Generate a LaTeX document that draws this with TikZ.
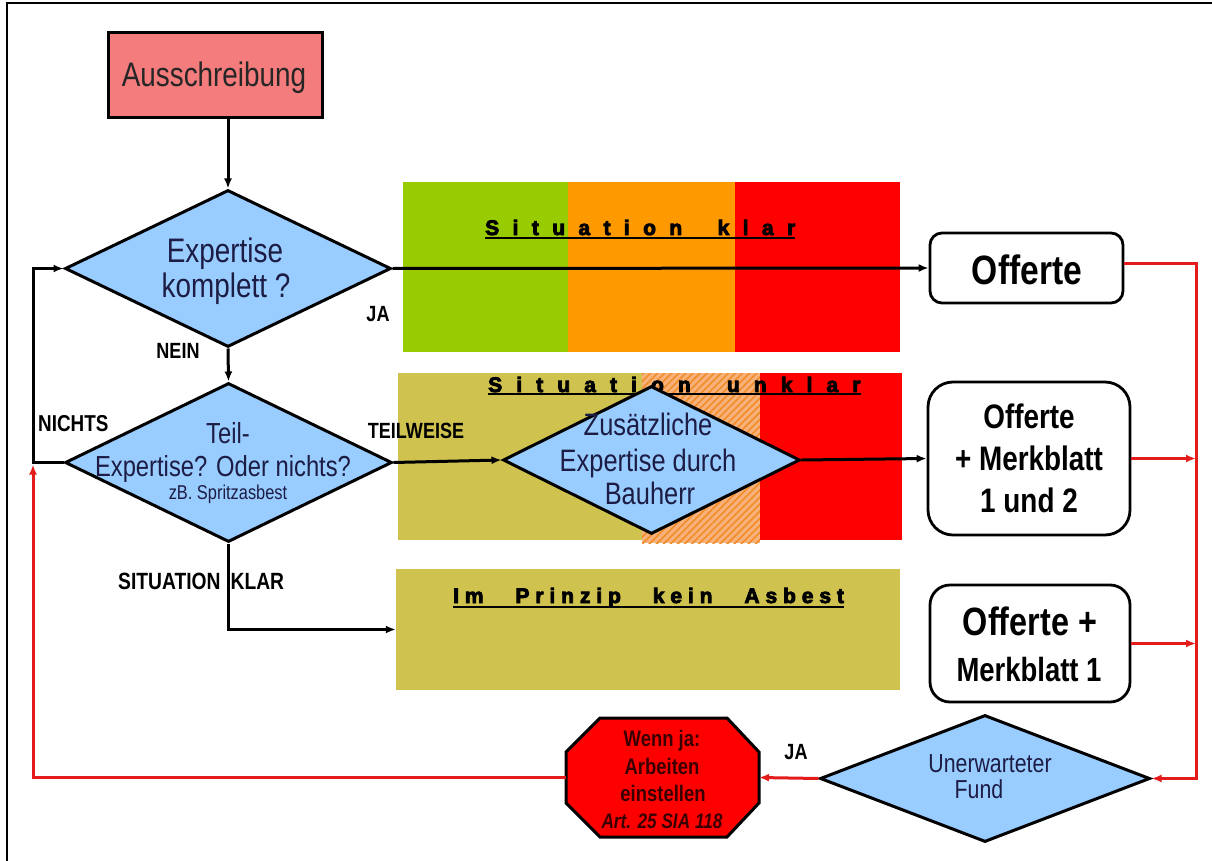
\documentclass[tikz,border=0pt]{standalone}
\usepackage{fontspec}
\setmainfont{Liberation Sans}[FakeStretch=0.82]
\newfontfamily\heavyfont{Liberation Sans}[FakeBold=4]
\usetikzlibrary{shapes.geometric,arrows.meta,patterns.meta}
\definecolor{salmon}{HTML}{F47C7C}
\definecolor{diablue}{HTML}{99CCFF}
\definecolor{cgreen}{HTML}{99CC00}
\definecolor{corange}{HTML}{FF9900}
\definecolor{cred}{HTML}{FF0000}
\definecolor{olive}{HTML}{CFC24F}
\definecolor{hatchbg}{HTML}{F6B27A}
\definecolor{hatchfg}{HTML}{F28C28}
\definecolor{redline}{HTML}{E31B1B}
\definecolor{navy}{HTML}{1C1C44}
\definecolor{octtext}{HTML}{3A0000}
\newdimen\trkamt \newdimen\trkgap
\def\trk#1{\trkloop#1\relax}
\def\trkloop#1{\ifx\relax#1\else\ifx|#1\hskip\trkgap\relax\else#1\hskip\trkamt\relax\fi\expandafter\trkloop\fi}
\newcommand\fs[2]{\fontsize{#1}{#2}\selectfont}
\begin{document}
\begin{tikzpicture}[x=1pt,y=-1pt,
  arr/.style={line width=3pt,-{Latex[length=10pt,width=8pt]}},
  redarr/.style={draw=redline,line width=3pt,-{Latex[length=10pt,width=8pt]}},
  dia/.style={diamond,draw=black,line width=3pt,fill=diablue,inner sep=0pt},
  obox/.style={draw=black,line width=2.8pt,fill=white,inner sep=0pt},
  txt/.style={inner sep=0pt,anchor=base},
  dtxt/.style={txt,text=navy},
  otxt/.style={txt,font=\bfseries\fs{34}{40}},
  lbl/.style={txt,font=\bfseries\fs{22}{26}},
  octt/.style={txt,text=octtext,font=\bfseries\fs{22.5}{26}},
  title/.style={inner sep=0pt,anchor=base west,font=\heavyfont\bfseries\fs{21}{24}},
  uline/.style={line width=1.6pt}]
\useasboundingbox (0,0) rectangle (1212,861);
\fill[white] (0,0) rectangle (1212,861);
\draw[line width=2pt] (7,861) -- (7,3) -- (1212,3);

% colour bands
\fill[cgreen] (403,182) rectangle (568,352);
\fill[corange] (568,182) rectangle (735,352);
\fill[cred] (735,182) rectangle (900,352);
\fill[olive] (398,373) rectangle (642,540);
\fill[hatchbg] (642,373) rectangle (760,543);
\fill[pattern={Lines[angle=45,distance=5pt,line width=1.6pt]},pattern color=hatchfg] (642,373) rectangle (760,543);
\fill[cred] (760,373) rectangle (902,540);
\node[fill=olive,minimum width=504pt,minimum height=121pt,inner sep=0pt] (b3) at (648,629.5) {};

% band titles
\node[title] (t1) at (485,235) {\trkamt=13.4pt\relax\trkgap=22pt\relax\trk{Situation|klar}};
\draw[uline] ([yshift=-3pt]t1.base west) -- ([yshift=-3pt]t1.base east);
\node[title] (t2) at (488,392) {\trkamt=14.1pt\relax\trkgap=22pt\relax\trk{Situation|unklar}};
\draw[uline] ([yshift=-2pt]t2.base west) -- ([yshift=-2pt]t2.base east);
\node[title] (t3) at (453,603) {\trkamt=5.9pt\relax\trkgap=26pt\relax\trk{Im|Prinzip|kein|Asbest}};
\draw[uline] ([yshift=-4pt]t3.base west) -- ([yshift=-4pt]t3.base east);

% bus helpers
\coordinate (lbus) at (33,0);
\coordinate (rbus) at (1196,0);

% nodes
\node[draw=black,line width=3pt,fill=salmon,minimum width=214pt,minimum height=85pt,inner sep=0pt] (aus) at (215,75.5) {};
\node[txt,text=black!85,font=\fs{34}{40}] (taus) at (214,87) {Ausschreibung};

\node[dia,minimum width=326pt,minimum height=157pt] (d1) at (228,268.5) {};
\node[dtxt,font=\fs{34}{40}] (d1a) at (225,262) {Expertise};
\node[dtxt,font=\fs{34}{40}] (d1b) at (226,297) {komplett ?};

\node[dia,minimum width=327pt,minimum height=159pt] (d2) at (228.5,462.5) {};
\node[dtxt,font=\fs{29}{33}] (d2a) at (228,443) {Teil-};
\node[dtxt,font=\fs{29}{33}] (d2b) at (223,476) {Expertise? Oder nichts?};
\node[dtxt,font=\fs{20}{23}] (d2c) at (228,499) {zB. Spritzasbest};

\node[dia,minimum width=297pt,minimum height=148pt] (d3) at (651.5,460) {};
\node[dtxt,font=\fs{31}{36}] (d3a) at (648,435) {Zusätzliche};
\node[dtxt,font=\fs{31}{36}] (d3b) at (648,471) {Expertise durch};
\node[dtxt,font=\fs{31}{36}] (d3c) at (650,504) {Bauherr};

\node[dia,minimum width=330pt,minimum height=127pt] (d4) at (985,778.5) {};
\node[dtxt,font=\fs{26}{30}] (d4a) at (990,772) {Unerwarteter};
\node[dtxt,font=\fs{26}{30}] (d4b) at (979,798) {Fund};

\node[obox,rounded corners=12pt,minimum width=193pt,minimum height=70pt] (off1) at (1026.5,268) {};
\node[txt,font=\bfseries\fs{41}{46}] (o1a) at (1027,284) {Offerte};

\node[obox,rounded corners=25pt,minimum width=202pt,minimum height=153pt] (off2) at (1029,458.5) {};
\node[otxt] (o2a) at (1029,428) {Offerte};
\node[otxt] (o2b) at (1029,470) {+ Merkblatt};
\node[otxt] (o2c) at (1029,512) {1 und 2};

\node[obox,rounded corners=20pt,minimum width=200pt,minimum height=117pt] (off3) at (1030,643.5) {};
\node[txt,font=\bfseries\fs{39.5}{44}] (o3a) at (1030,635) {Offerte +};
\node[txt,font=\bfseries\fs{33.5}{38}] (o3b) at (1029,681) {Merkblatt 1};

% octagon
\node[minimum width=193pt,minimum height=119pt,inner sep=0pt,outer sep=0pt] (oct) at (662.5,777.5) {};
\draw[line width=3pt,fill=cred,line join=miter] (600,718) -- (727,718) -- (759,752) -- (759,803) -- (727,837) -- (600,837) -- (566,803) -- (566,752) -- cycle;
\node[octt] (oa) at (662,746) {Wenn ja:};
\node[octt] (ob) at (662,774) {Arbeiten};
\node[octt] (oc) at (663,801) {einstellen};
\node[txt,text=octtext,font=\bfseries\itshape\fs{21}{24}] (od) at (662,828) {Art. 25 SIA 118};

% labels
\node[lbl] (lja1) at (378,321) {JA};
\node[lbl] (lnein) at (178,358) {NEIN};
\node[txt,anchor=base west,font=\bfseries\fs{23}{26}] (lnichts) at (38,431) {NICHTS};
\node[lbl] (lteil) at (416,438) {TEILWEISE};
\node[txt,anchor=base west,font=\bfseries\fs{23.5}{26}] (lsk) at (118,589) {SITUATION\hspace{10pt}KLAR};
\node[lbl] (lja2) at (796,759) {JA};

% red connectors
\draw[redarr] ([yshift=5pt]off1.east) -| (rbus |- d4.east) -- (d4.east);
\draw[redarr] (off2.east) -- (off2.east -| rbus);
\draw[redarr] (off3.east) -- (off3.east -| rbus);
\draw[redarr] (d4.west) -- (oct.east);
\draw[redarr] (oct.west) -- (oct.west -| lbus) -- ([yshift=-2pt]lbus |- d2.west);

% black connectors
\draw[arr] (d1.north |- aus.south) -- (d1.north);
\draw[arr] (d1.east) -- (off1.west);
\draw[arr] (d1.south) -- (d2.north);
\draw[arr] (d2.west) -- (lbus |- d2.west) -- (lbus |- d1.west) -- (d1.west);
\draw[arr] (d2.east) -- (d3.west);
\draw[arr] (d3.east) -- (off2.west);
\draw[arr] (d2.south) |- (b3.west);
\end{tikzpicture}
\end{document}
